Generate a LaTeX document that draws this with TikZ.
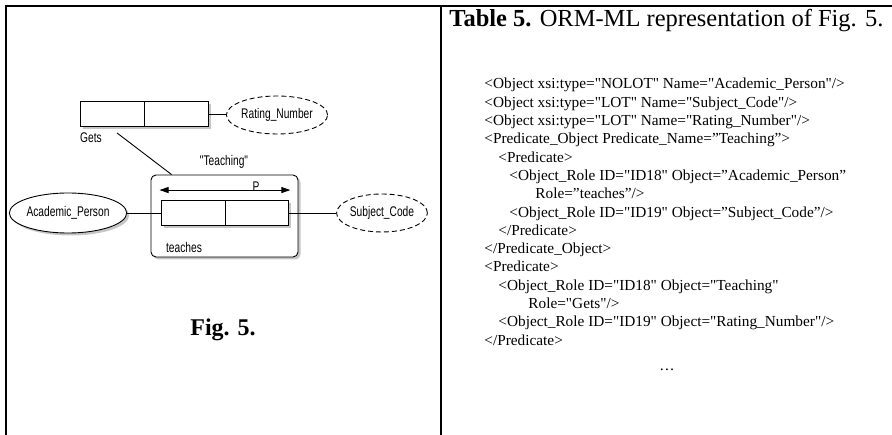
\documentclass[tikz,border=0pt]{standalone}
\usepackage{fontspec}
\setmainfont{Liberation Serif}
\newfontfamily\codefont{Liberation Serif}
\newfontfamily\ormfont[FakeStretch=0.73]{Liberation Sans}
\usetikzlibrary{positioning, shapes.geometric, shadows, arrows.meta}

\begin{document}
\begin{tikzpicture}[x = 1pt, y = -1pt, line width = 0.9pt,
  shd/.style = {drop shadow = {shadow xshift = 2.5pt, shadow yshift = -2.5pt, opacity = .45}},
  role/.style = {draw, fill = white, shd, minimum width = 64pt, minimum height = 25pt, inner sep = 0pt},
  ent/.style = {draw, ellipse, fill = white, inner sep = 0pt, font = \ormfont\fontsize{14}{16}\selectfont},
  lot/.style = {ent, dash pattern = on 5pt off 3pt},
  lbl/.style = {inner sep = 0pt, font = \ormfont\fontsize{14}{16}\selectfont},
  code/.style = {anchor = base west, inner sep = 0pt, font = \codefont\fontsize{15.3}{18}\selectfont}]
\useasboundingbox (0,0) rectangle (892,435);
% frame
\draw[line width = 1.3pt] (6,435) -- (6,6) -- (892,6);
\draw[line width = 1.3pt] (441,6) -- (441,435);

% Fig. 5
\node[draw, rounded corners = 5pt, shd, fill = white, minimum width = 147pt, minimum height = 82pt] (pred) at (224.5,216) {};
\node[role] (teach1) at (193,213) {};
\node[role, right = 0pt of teach1, minimum width = 63pt] (teach2) {};
\node[role] (gets1) at (112,114) {};
\node[role, right = 0pt of gets1] (gets2) {};
\node[ent, shd, minimum width = 93pt, minimum height = 40pt] (acad) at (68,213) {Academic\_Person};
\node[lot, minimum width = 78pt, minimum height = 38pt] (subj) at (382,213) {Subject\_Code};
\node[lot, minimum width = 80pt, minimum height = 38pt] (rating) at (277,115) {Rating\_Number};
\node[lbl] (getslbl) at (91,138) {Gets};
\node[lbl] (predlbl) at (224,162) {"Teaching"};
\node[lbl] (teachlbl) at (184,247) {teaches};
\node[lbl, anchor = south] (pkey) at (256,192) {P};
\coordinate (pl) at ([xshift = -1pt, yshift = 10pt]teach1.north west);
\coordinate (pr) at ([xshift = 1pt, yshift = 10pt]teach2.north east);
\draw[{Triangle[length = 9pt, width = 6pt]}-{Triangle[length = 9pt, width = 6pt]}] (pl) -- (pr);
\draw (acad) -- (teach1);
\draw (teach2) -- (subj);
\draw (gets2.east) -- (gets2.east -| rating.west);
\draw ([xshift = 5pt, yshift = -6pt]gets1.south) -- ([xshift = 21pt]pred.north west);
\node[font = \bfseries\fontsize{24}{28}\selectfont] (figcap) at (223,330) {Fig. 5.};

% Table 5
\node[anchor = base west, inner sep = 0pt, font = \fontsize{24.5}{28}\selectfont] (title) at (449,27) {\textbf{Table 5.} ORM-ML representation of Fig. 5.};
\node[code] (l1) at (484,89) {<Object xsi:type="NOLOT" Name="Academic\_Person"/>};
\node[code] (l2) at (484,107.3) {<Object xsi:type="LOT" Name="Subject\_Code"/>};
\node[code] (l3) at (484,125.6) {<Object xsi:type="LOT" Name="Rating\_Number"/>};
\node[code] (l4) at (484,143.9) {<Predicate\_Object Predicate\_Name=”Teaching”>};
\node[code] (l5) at (498,162.2) {<Predicate>};
\node[code] (l6) at (509,180.5) {<Object\_Role ID="ID18" Object=”Academic\_Person”};
\node[code] (l7) at (535,198.8) {Role=”teaches”/>};
\node[code] (l8) at (509,217.1) {<Object\_Role ID="ID19" Object=”Subject\_Code”/>};
\node[code] (l9) at (498,235.4) {</Predicate>};
\node[code] (l10) at (484,253.7) {</Predicate\_Object>};
\node[code] (l11) at (484,272) {<Predicate>};
\node[code] (l12) at (498,290.3) {<Object\_Role ID="ID18" Object="Teaching"};
\node[code] (l13) at (528,308.6) {Role="Gets"/>};
\node[code] (l14) at (498,326.9) {<Object\_Role ID="ID19" Object="Rating\_Number"/>};
\node[code] (l15) at (484,345.2) {</Predicate>};
\node[code, anchor = base] (dots) at (667,371) {…};
\end{tikzpicture}
\end{document}
